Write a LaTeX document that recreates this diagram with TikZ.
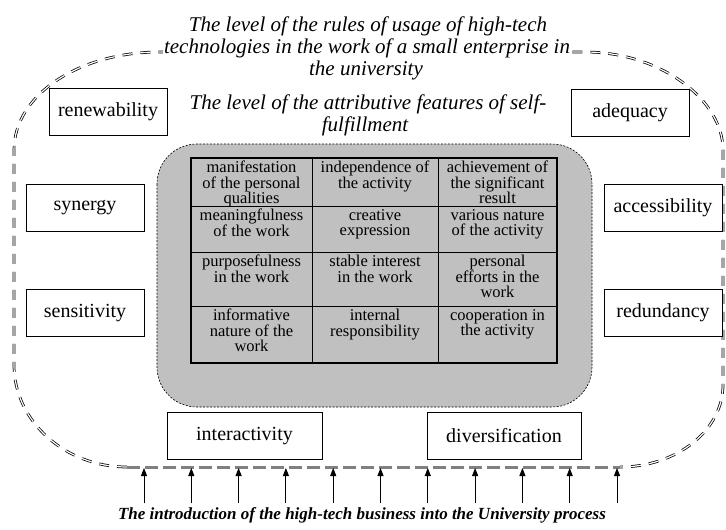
\documentclass[tikz,border=0pt]{standalone}
\usepackage{fontspec}
\setmainfont{Liberation Serif}
\usetikzlibrary{arrows.meta}
\definecolor{panelgray}{HTML}{C0C0C0}
\definecolor{basegray}{HTML}{808080}
\begin{document}
\begin{tikzpicture}[x=1pt,y=-1pt,
  lbl/.style={draw=black, line width=0.8pt, fill=white, minimum width=118pt, minimum height=47pt, inner sep=0pt, font=\fontsize{20}{22}\selectfont},
  cell/.style={anchor=north, align=center, inner sep=0pt, font=\fontsize{16.5}{15.5}\selectfont},
  ttl/.style={anchor=base, inner sep=1pt, font=\fontsize{21}{22}\selectfont\itshape},
  outerline/.style={draw=black, line width=0.75pt, double distance=1.2pt, dash pattern=on 10pt off 8pt},
  baseline/.style={draw=basegray, line width=3pt, dash pattern=on 13pt off 5pt},
  panel/.style={fill=panelgray, draw=black, line width=0.6pt, dash pattern=on 2pt off 1.5pt, rounded corners=40pt},
  upar/.style={draw=black, line width=1pt, -{Triangle[length=8pt,width=6pt]}}
]
\useasboundingbox (0,0) rectangle (726,530);

% outer boundary
\draw[outerline] (127,467) .. controls (65,467) and (14,421) .. (14,365)
  -- (14,150) .. controls (14,95) and (79,52) .. (160,52)
  -- (585,52) .. controls (661,52) and (723,100) .. (723,150)
  -- (723,385) .. controls (723,430) and (677,467) .. (620,467);
\draw[baseline] (127,467) -- (620,467);

% titles
\node[ttl, fill=white] (t2) at (367,53) {technologies in the work of a small enterprise in};
\node[ttl] (t1) at (368,31) {The level of the rules of usage of high-tech};
\node[ttl] (t3) at (366,75) {the university};
\node[ttl] (s1) at (368,109) {The level of the attributive features of self-};
\node[ttl] (s2) at (365,131) {fulfillment};

% grey panel
\path[panel] (157,144) rectangle (592,407);

% table
\draw[line width=1.5pt] (191,158) rectangle (557,363);
\draw[line width=1pt] (312,158) -- (312,363) (438,158) -- (438,363)
  (191,206) -- (557,206) (191,252) -- (557,252) (191,306) -- (557,306);

\node[cell] (c11) at (251.5,161) {manifestation\\of the personal\\qualities};
\node[cell] (c12) at (375,161) {independence of\\the activity};
\node[cell] (c13) at (497.5,161) {achievement of\\the significant\\result};
\node[cell] (c21) at (251.5,209) {meaningfulness\\of the work};
\node[cell] (c22) at (375,209) {creative\\expression};
\node[cell] (c23) at (497.5,209) {various nature\\of the activity};
\node[cell] (c31) at (251.5,255) {purposefulness\\in the work};
\node[cell] (c32) at (375,255) {stable interest\\in the work};
\node[cell] (c33) at (497.5,255) {personal\\efforts in the\\work};
\node[cell] (c41) at (251.5,309) {informative\\nature of the\\work};
\node[cell] (c42) at (375,309) {internal\\responsibility};
\node[cell] (c43) at (497.5,309) {cooperation in\\the activity};

% property boxes
\node[lbl] (renew) at (108,111.5) {renewability};
\node[lbl] (adeq) at (630,112.5) {adequacy};
\node[lbl] (syn) at (85,207.5) {synergy};
\node[lbl] (sens) at (85,313) {sensitivity};
\node[lbl] (acc) at (663,207.5) {accessibility};
\node[lbl] (red) at (663,313) {redundancy};
\node[lbl, minimum width=155pt] (inter) at (244.5,436) {interactivity};
\node[lbl, minimum width=154pt] (div) at (504,435.5) {diversification};

% arrows
\foreach \i in {0,...,10} {
  \coordinate (a\i) at ({144+47.3*\i},503);
  \coordinate (b\i) at ({144+47.3*\i},468);
  \draw[upar] (a\i) -- (b\i);
}

\node[anchor=base, inner sep=0pt, font=\fontsize{17}{20}\selectfont\bfseries\itshape] (bottom) at (362,519) {The introduction of the high-tech business into the University process};
\end{tikzpicture}
\end{document}
